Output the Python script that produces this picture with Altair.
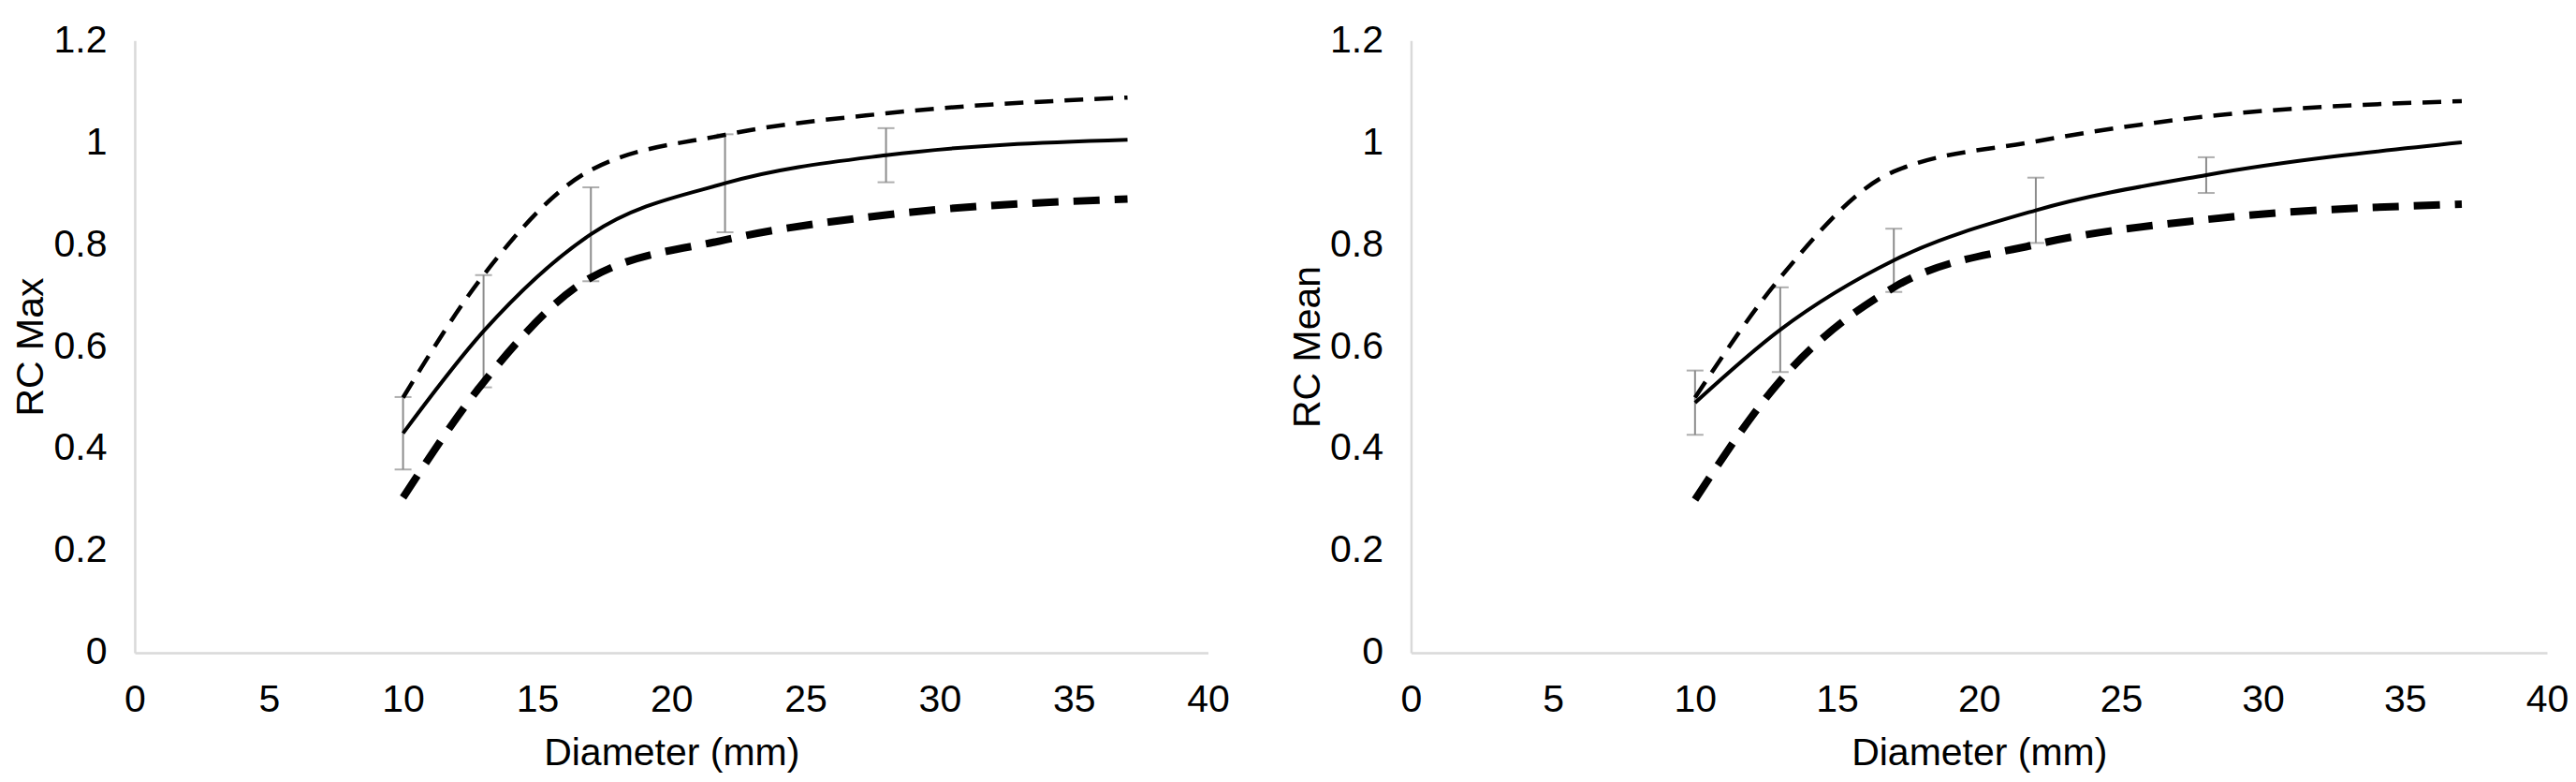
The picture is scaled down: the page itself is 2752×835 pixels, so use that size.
import altair as alt
import pandas as pd

# Sphere diameters (mm)
diameters = [10, 13, 17, 22, 28, 37]

# Left panel: RC Max
rcmax_mean = [0.43, 0.63, 0.82, 0.92, 0.975, 1.005]
rcmax_err = [0.071, 0.11, 0.092, 0.096, 0.053]
rcmax_upper = [0.50, 0.74, 0.946, 1.015, 1.057, 1.088]
rcmax_lower = [0.304, 0.53, 0.735, 0.809, 0.858, 0.889]

# Right panel: RC Mean
rcmean_mean = [0.49, 0.633, 0.769, 0.867, 0.936, 1.0]
rcmean_err = [0.063, 0.083, 0.062, 0.064, 0.035]
rcmean_upper = [0.50, 0.735, 0.943, 1.002, 1.051, 1.081]
rcmean_lower = [0.30, 0.533, 0.716, 0.80, 0.849, 0.879]

x_ticks = [0, 5, 10, 15, 20, 25, 30, 35, 40]
y_ticks = [0, 0.2, 0.4, 0.6, 0.8, 1.0, 1.2]

FONT = "Liberation Sans"


def panel(mean, err, upper, lower, ytitle, width, height):
    df = pd.DataFrame({"d": diameters, "mean": mean, "upper": upper, "lower": lower})
    n = len(err)
    eb = pd.DataFrame({
        "d": diameters[:n],
        "lo": [m - e for m, e in zip(mean[:n], err)],
        "hi": [m + e for m, e in zip(mean[:n], err)],
    })
    xenc = alt.X("d:Q", scale=alt.Scale(domain=[0, 40], nice=False, zero=False),
                 axis=alt.Axis(values=x_ticks, format="d", title="Diameter (mm)"))
    yscale = alt.Scale(domain=[0, 1.2], nice=False)
    yaxis = alt.Axis(values=y_ticks, format="~g", title=ytitle)

    rules = alt.Chart(eb).mark_rule(color="#8c8c8c", strokeWidth=2).encode(
        x=xenc, y=alt.Y("lo:Q", scale=yscale, axis=yaxis), y2="hi:Q")
    cap_lo = alt.Chart(eb).mark_tick(color="#8c8c8c", orient="horizontal", size=18, thickness=2).encode(
        x=xenc, y=alt.Y("lo:Q", scale=yscale, axis=yaxis))
    cap_hi = alt.Chart(eb).mark_tick(color="#8c8c8c", orient="horizontal", size=18, thickness=2).encode(
        x=xenc, y=alt.Y("hi:Q", scale=yscale, axis=yaxis))
    solid = alt.Chart(df).mark_line(color="black", strokeWidth=4, interpolate="monotone").encode(
        x=xenc, y=alt.Y("mean:Q", scale=yscale, axis=yaxis))
    up = alt.Chart(df).mark_line(color="black", strokeWidth=4.5, strokeDash=[20, 12],
                                 interpolate="monotone").encode(
        x=xenc, y=alt.Y("upper:Q", scale=yscale, axis=yaxis))
    lowl = alt.Chart(df).mark_line(color="black", strokeWidth=8, strokeDash=[28, 16],
                                   interpolate="monotone").encode(
        x=xenc, y=alt.Y("lower:Q", scale=yscale, axis=yaxis))
    return alt.layer(rules, cap_lo, cap_hi, lowl, up, solid).properties(width=width, height=height)


left = panel(rcmax_mean, rcmax_err, rcmax_upper, rcmax_lower, "RC Max", 1147, 654)
right = panel(rcmean_mean, rcmean_err, rcmean_upper, rcmean_lower, "RC Mean", 1214, 654)

chart = alt.hconcat(left, right, spacing=63).properties(
    padding={"left": 5, "top": 14, "right": 0, "bottom": 0},
    background="white",
).configure_view(stroke=None).configure_axis(
    grid=False, ticks=False, domainColor="#d9d9d9", domainWidth=2.5,
    labelFont=FONT, titleFont=FONT, labelFontSize=41, labelColor="black",
    titleColor="black", titleFontWeight="normal", labelFlush=False,
).configure_axisX(
    labelPadding=31, titleFontSize=41, titlePadding=17,
).configure_axisY(
    labelPadding=30, titleFontSize=41, titlePadding=2,
)

chart.save("out.html", embed_options={"renderer": "svg", "actions": False})
